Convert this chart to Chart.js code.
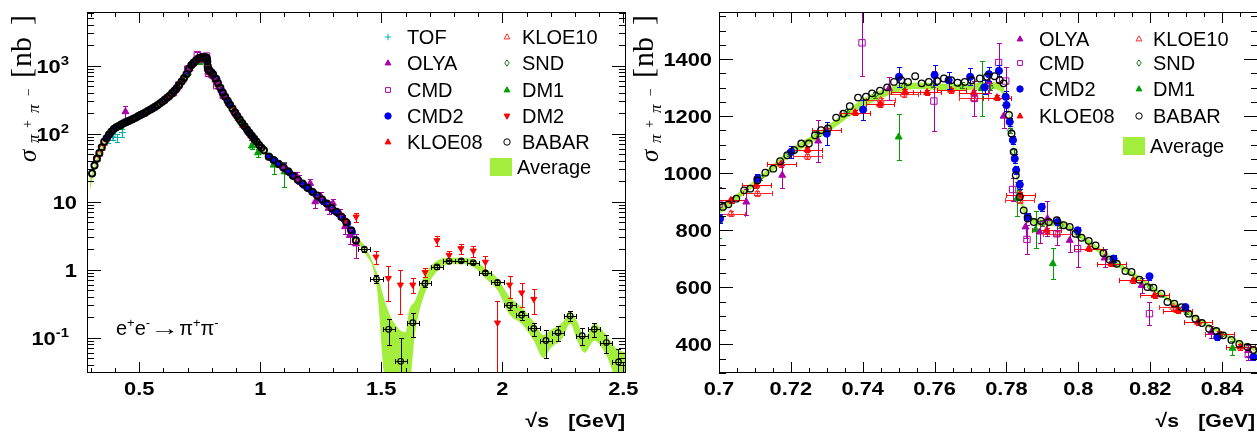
<!DOCTYPE html>
<html>
<head>
<meta charset="utf-8">
<script src="https://cdn.jsdelivr.net/npm/chart.js@4.4.1/dist/chart.umd.min.js"></script>
<style>
  html, body { margin: 0; padding: 0; background: #fff; overflow: hidden; width: 1257px; height: 433px; }
  canvas { position: absolute; top: 0; }
  #full { left: 0; }
  #rho { left: 630px; }
</style>
</head>
<body>
<canvas id="full" width="645" height="433"></canvas>
<canvas id="rho" width="640" height="433"></canvas>
<script>
// ---- left panel: full energy range (log scale) ----
const L_BABAR_X = [0.305,0.315,0.325,0.335,0.345,0.355,0.365,0.375,0.385,0.395,0.405,0.415,0.425,0.435,0.445,0.455,0.465,0.475,0.485,0.495,0.505,0.515,0.525,0.535,0.545,0.555,0.565,0.575,0.585,0.595,0.605,0.615,0.625,0.635,0.645,0.655,0.665,0.675,0.685,0.695,0.705,0.715,0.725,0.735,0.745,0.755,0.765,0.775,0.779,0.781,0.783,0.785,0.795,0.805,0.815,0.825,0.835,0.845,0.855,0.865,0.875,0.885,0.895,0.905,0.915,0.925,0.935,0.945,0.955,0.965,0.975,0.985,0.995,1.005,1.015,1.035,1.055,1.075,1.095,1.115,1.135,1.155,1.175,1.195,1.215,1.235,1.255,1.275,1.295,1.315,1.335,1.355,1.375,1.395]
const L_BABAR_Y = [26,34,43,52,63,76,86,97,108,117,124,130,136,142,148,153,159,166,172,180,188,196,205,215,225,236,248,262,278,296,316,338,362,392,428,468,520,585,660,750,900,1015,1110,1200,1290,1325,1325,1335,1290,1150,980,870,815,745,650,555,475,402,350,305,266,234,206,182,162,144,129,115,103,93,84,76,68,62,57,46,41,36,32,28,24,21,18.5,16,14,12.3,10.8,9.4,8.1,7.1,6.0,5.0,3.8,2.7]
const L_BABAR_HI_X = [1.43,1.48,1.53,1.58,1.63,1.68,1.73,1.78,1.83,1.88,1.93,1.98,2.03,2.08,2.13,2.18,2.23,2.28,2.33,2.38,2.43,2.48]
const L_BABAR_HI_Y = [2.0,0.73,0.133,0.045,0.166,0.63,1.1,1.33,1.35,1.27,0.9,0.65,0.30,0.216,0.137,0.091,0.119,0.21,0.107,0.133,0.085,0.044]
const L_BABAR_HI_ERR = [0.15,0.1,0.055,0.055,0.065,0.08,0.08,0.08,0.07,0.07,0.07,0.06,0.04,0.035,0.03,0.04,0.03,0.035,0.03,0.03,0.025,0.025]
const L_BABAR_HI_BIN = 0.025

const L_DM2_X = [1.35,1.396,1.478,1.529,1.579,1.63,1.681,1.73,1.78,1.829,1.88,1.93,1.98,2.03,2.08,2.13]
const L_DM2_Y = [5.2,6.0,1.55,0.75,0.6,0.6,0.92,2.7,1.64,2.06,1.9,1.3,0.166,0.6,0.46,0.37]
const L_DM2_ERR = [0.6,0.9,0.35,0.4,0.38,0.15,0.15,0.45,0.25,0.35,0.35,0.3,0.18,0.22,0.18,0.15]

const L_DM1_X = [0.42,0.5,0.6,0.7,0.75,0.78,0.795,0.85,0.92,0.965,0.99,1.055,1.1]
const L_DM1_Y = [128,185,300,780,1127,1300,820,360,150,66,52.5,34.6,27.5]
const L_DM1_ERR = [10,10,20,50,80,90,50,30,12,6,7,9,11]

const L_OLYA_X = [0.443,0.52,0.6,0.65,0.708,0.728,0.747,0.775,0.786,0.798,0.818,0.85,0.9,1.1,1.15,1.158,1.206,1.227,1.25,1.282,1.3,1.33,1.35,1.37,1.396]
const L_OLYA_Y = [211,195,305,440,899,1113,1297,1320,812,765,607,370,205,33,24,21.4,18.6,10,12,8.0,9.5,6.7,4.3,3.2,2.4]
const L_OLYA_ERR = [45,15,20,30,45,75,40,40,40,40,25,25,15,4,3,3,3,2,2,1.5,1.5,1.2,1.0,0.8,0.9]

const L_CMD2_X = [0.37,0.4,0.45,0.5,0.55,0.6,0.65,0.7,0.72,0.74,0.76,0.78,0.79,0.8,0.82,0.84,0.87,0.9,0.95,0.97,1.04,1.06,1.08,1.1,1.12,1.14,1.16,1.18,1.2,1.22,1.24,1.26,1.28,1.3,1.32,1.34,1.36,1.38]
const L_CMD2_Y = [90,122,152,186,230,305,450,841,1075,1223,1344,1239,882,800,639,426,285,195,108,88,45,40,35,31,27,24,20,17.5,15.5,13.5,11.5,10.2,9.0,7.6,6.8,5.8,4.8,3.6]
const L_CMD2_ERR = [5,5,6,6,8,10,15,15,20,35,35,20,15,12,12,10,8,6,4,4,2,2,2,1.8,1.6,1.4,1.3,1.2,1.1,1,0.9,0.8,0.8,0.7,0.6,0.6,0.5,0.5]

const L_KLOE10_X = [0.325,0.335,0.345,0.355,0.365,0.375,0.385,0.4,0.42,0.45,0.5,0.55,0.6,0.65,0.7,0.72,0.745,0.77,0.784,0.794,0.81,0.826,0.85,0.87,0.9,0.93,0.96,0.98]
const L_KLOE10_Y = [42,50,61,72,84,95,106,119,133,149,184,228,303,445,790,1060,1256,1262,905,788,680,531,370,282,190,132,95,77]

const L_KLOE08_X = [0.6,0.62,0.64,0.66,0.68,0.7,0.717,0.738,0.752,0.765,0.777,0.784,0.791,0.803,0.815,0.828,0.839,0.85,0.87,0.89,0.91,0.93,0.95,0.97]
const L_KLOE08_Y = [300,345,405,490,615,830,1032,1212,1285,1291,1265,925,800,736,625,519,437,365,280,215,168,133,106,85]

const L_SND_X = [0.39,0.41,0.43,0.45,0.48,0.52,0.56,0.6,0.64,0.68,0.72,0.76,0.79,0.83,0.87,0.91,0.95]
const L_SND_Y = [112,124,136,146,164,196,244,308,400,620,1070,1312,830,510,283,166,106]

const L_TOF_X = [0.37,0.39,0.41,0.43]
const L_TOF_Y = [80,92,88,104]
const L_TOF_ERR = [8,10,12,14]

const L_CMD_X = [0.64,0.663,0.7,0.74,0.76,0.778,0.782,0.786,0.8,0.82,0.847]
const L_CMD_Y = [400,520,891,1457,1253,1388,943,768,736,508,365]
const L_CMD_ERR = [30,30,60,115,105,70,40,50,65,40,20]

const L_BAND_X = [0.295,0.31,0.33,0.35,0.38,0.42,0.5,0.6,0.65,0.7,0.73,0.75,0.77,0.778,0.782,0.786,0.8,0.85,0.9,0.95,1.0,1.05,1.1,1.2,1.3,1.35,1.38,1.43,1.48,1.52,1.55,1.6,1.615,1.64,1.68,1.73,1.78,1.83,1.88,1.93,1.98,2.03,2.08,2.13,2.17,2.2,2.25,2.28,2.31,2.34,2.38,2.43,2.47,2.51]
const L_BAND_LO = [14,24,42,60,92,125,178,290,410,760,1130,1270,1295,1280,1000,830,740,355,190,108,58,40,26,14,7,5.0,3.0,1.8,0.6,0.02,0.02,0.02,0.02,0.12,0.45,0.95,1.2,1.2,1.1,0.75,0.5,0.22,0.16,0.09,0.05,0.07,0.1,0.16,0.09,0.06,0.09,0.055,0.025,0.02]
const L_BAND_HI = [20,30,50,70,108,140,195,315,460,830,1200,1330,1345,1340,1150,890,790,390,210,120,65,45,30,15.5,7.8,5.8,3.6,2.3,0.95,0.3,0.17,0.12,0.25,0.35,0.85,1.35,1.5,1.5,1.4,1.05,0.75,0.4,0.28,0.17,0.11,0.13,0.17,0.25,0.17,0.1,0.16,0.11,0.07,0.06]

const L_XTICKS = [0.5, 1, 1.5, 2, 2.5]
const L_XTICK_TEXT = ['0.5', '1', '1.5', '2', '2.5']
const L_YTICKS = [0.1, 1, 10, 100, 1000]
const L_YTICK_BASE = ['10', '1', '10', '10', '10']
const L_YTICK_EXP = ['-1', '', '', '2', '3']

// ---- right panel: rho-omega region (linear scale) ----
const R_BABAR_X = [0.7011,0.7026,0.7048,0.707,0.7087,0.7107,0.7129,0.7151,0.717,0.719,0.7209,0.7229,0.725,0.7267,0.7284,0.7303,0.7326,0.7346,0.7364,0.7387,0.7409,0.7426,0.7448,0.7468,0.7487,0.7507,0.7526,0.7546,0.7564,0.7584,0.7607,0.7626,0.7646,0.7664,0.7684,0.7703,0.7726,0.7746,0.7767,0.7781,0.7792,0.7807,0.7814,0.782,0.7826,0.7837,0.7848,0.7859,0.7876,0.7896,0.7918,0.794,0.7959,0.7976,0.7992,0.8009,0.8029,0.8048,0.807,0.8087,0.8107,0.8131,0.8148,0.817,0.8192,0.8209,0.8231,0.8248,0.8267,0.8287,0.8307,0.8326,0.8344,0.8364,0.8384,0.8403,0.8426,0.8448,0.8471,0.8487]
const R_BABAR_Y = [882,891,911,940,946,975,1002,1016,1042,1063,1081,1104,1104,1133,1151,1157,1195,1209,1235,1265,1268,1280,1289,1301,1320,1326,1320,1340,1315,1320,1323,1332,1326,1317,1320,1326,1332,1338,1340,1326,1315,1204,1139,1075,993,917,870,841,829,833,829,835,818,812,788,774,763,747,720,697,683,657,654,627,601,599,578,549,543,531,508,490,475,455,447,432,416,402,391,381]

const R_CMD2_X = [0.7003,0.7107,0.7201,0.73,0.7401,0.7501,0.76,0.7639,0.7699,0.7739,0.7751,0.7779,0.7798,0.78,0.7809,0.7818,0.7823,0.7827,0.7837,0.7859,0.7898,0.7942,0.7998,0.8098,0.8198,0.8298,0.8387,0.8487]
const R_CMD2_Y = [841,981,1075,1139,1223,1338,1344,1326,1338,1301,1347,1359,1268,1239,1180,1116,1051,1011,960,847,882,829,800,701,639,531,426,356]
const R_CMD2_ERR = [15,15,20,40,35,35,35,30,30,25,25,20,20,20,15,15,15,15,15,15,15,12,12,12,12,10,10,10]

const R_KLOE08_X = [0.7033,0.7104,0.7173,0.7246,0.73,0.7379,0.7448,0.7518,0.7579,0.7646,0.7709,0.7774,0.7839,0.7912,0.8029,0.8092,0.8153,0.8212,0.8276,0.8333,0.8392,0.8451]
const R_KLOE08_Y = [905,958,1032,1083,1151,1212,1242,1285,1283,1291,1282,1265,925,800,736,683,625,572,519,478,437,391]
const R_KLOE08_ERR = 9
const R_KLOE08_BIN = 0.004

const R_KLOE10_X = [0.7033,0.7107,0.7246,0.745,0.7514,0.7709,0.7837,0.7942,0.8264]
const R_KLOE10_Y = [858,929,1060,1256,1277,1262,905,788,531]
const R_KLOE10_ERR = 9
const R_KLOE10_BIN = 0.004

const R_OLYA_X = [0.7076,0.7176,0.7276,0.7473,0.7751,0.7792,0.7853,0.7892,0.7914,0.7976,0.8073,0.8176,0.837,0.8473]
const R_OLYA_Y = [899,993,1113,1297,1320,1200,812,794,841,765,703,607,443,379]
const R_OLYA_ERR = [45,45,75,40,40,40,40,40,60,40,30,25,20,20]

const R_CMD_X = [0.7,0.7398,0.7598,0.7711,0.7778,0.7798,0.7817,0.7857,0.794,0.7998,0.8198,0.8473]
const R_CMD_Y = [891,1457,1253,1262,1388,1323,943,768,788,736,508,365]
const R_CMD_ERR = [60,115,105,60,70,50,40,50,40,65,40,20]

const R_DM1_X = [0.7,0.75,0.7731,0.7829,0.7881,0.7929,0.8429]
const R_DM1_Y = [833,1127,1297,911,802,683,387]
const R_DM1_ERR = [60,80,95,60,65,55,25]

const R_SND_X = [0.7035,0.7115,0.7195,0.7275,0.7355,0.7435,0.7515,0.7595,0.7675,0.7755,0.7795,0.781,0.782,0.7835,0.786,0.79,0.795,0.8,0.81,0.82,0.83,0.84,0.85]
const R_SND_Y = [905,985,1070,1140,1215,1275,1305,1312,1308,1300,1270,1150,1075,930,850,825,818,785,690,600,515,433,372]
const R_SND_ERR = 10

const R_BAND_X = [0.7,0.71,0.72,0.73,0.74,0.745,0.75,0.755,0.76,0.765,0.77,0.775,0.778,0.78,0.781,0.782,0.783,0.784,0.786,0.79,0.795,0.8,0.81,0.82,0.83,0.84,0.85]
const R_BAND_LO = [855,955,1060,1140,1230,1262,1285,1295,1292,1290,1292,1295,1290,1240,1180,1070,960,890,840,815,812,775,680,595,508,432,370]
const R_BAND_HI = [880,975,1085,1165,1260,1290,1310,1318,1315,1312,1315,1320,1318,1270,1200,1100,990,920,860,838,835,795,700,612,522,445,382]

const R_XTICKS = [0.7, 0.72, 0.74, 0.76, 0.78, 0.8, 0.82, 0.84]
const R_XTICK_TEXT = ['0.7', '0.72', '0.74', '0.76', '0.78', '0.8', '0.82', '0.84']
const R_YTICKS = [400, 600, 800, 1000, 1200, 1400]
const R_YTICK_TEXT = ['400', '600', '800', '1000', '1200', '1400']

const LEGEND_L = [['TOF', 'KLOE10'], ['OLYA', 'SND'], ['CMD', 'DM1'], ['CMD2', 'DM2'], ['KLOE08', 'BABAR']]
const LEGEND_R = [['OLYA', 'KLOE10'], ['CMD', 'SND'], ['CMD2', 'DM1'], ['KLOE08', 'BABAR']]

const AVG = '#a3ee3c'
const STYLE = {
  TOF:    { color: '#00b0b0', shape: 'cross',    fill: false, r: 3.5 },
  OLYA:   { color: '#aa00aa', shape: 'triangle', fill: true,  r: 4 },
  CMD:    { color: '#aa00aa', shape: 'rect',     fill: false, r: 4.5 },
  CMD2:   { color: '#0000ee', shape: 'circle',   fill: true,  r: 3.3 },
  KLOE08: { color: '#ff0000', shape: 'triangle', fill: true,  r: 4 },
  KLOE10: { color: '#ff2a2a', shape: 'triangle', fill: false, r: 4 },
  SND:    { color: '#227722', shape: 'rectRot',  fill: false, r: 3.5 },
  DM1:    { color: '#00a000', shape: 'triangle', fill: true,  r: 4 },
  DM2:    { color: '#ff0000', shape: 'tridown',  fill: true,  r: 3.5 },
  BABAR:  { color: '#000000', shape: 'circle',   fill: false, r: 3 }
}

const pts = (xs, ys) => xs.map((x, i) => ({ x: x, y: ys[i] }))

function pointSet(name, xs, ys, opt) {
  const st = STYLE[name]
  opt = opt || {}
  return {
    label: name,
    data: pts(xs, ys),
    showLine: false,
    pointStyle: st.shape === 'tridown' ? 'triangle' : st.shape,
    pointRotation: st.shape === 'tridown' ? 180 : 0,
    pointRadius: opt.r || st.r,
    pointBorderWidth: opt.bw || 1,
    pointBorderColor: st.color,
    pointBackgroundColor: st.fill ? st.color : 'rgba(0,0,0,0)',
    borderColor: st.color,
    errY: opt.errY,
    errX: opt.errX,
    order: opt.order || 10,
    clip: 0
  }
}

function bandSets(xs, lo, hi) {
  const common = { type: 'line', borderWidth: 0, pointRadius: 0, cubicInterpolationMode: 'monotone', order: 100, clip: 0 }
  return [
    Object.assign({ label: 'avgHi', data: pts(xs, hi), fill: false }, common),
    Object.assign({ label: 'Average', data: pts(xs, lo), fill: '-1', backgroundColor: AVG }, common)
  ]
}

// error bars drawn just before each dataset's markers
const errorBars = {
  id: 'errorBars',
  beforeDatasetDraw(chart, args) {
    const ds = chart.data.datasets[args.index]
    if (!ds.errY && !ds.errX) return
    const ctx = chart.ctx, a = chart.chartArea, sx = chart.scales.x, sy = chart.scales.y
    ctx.save()
    ctx.beginPath()
    ctx.rect(a.left, a.top, a.right - a.left, a.bottom - a.top)
    ctx.clip()
    ctx.strokeStyle = ds.borderColor
    ctx.lineWidth = 1
    ctx.beginPath()
    ds.data.forEach((p, i) => {
      const px = Math.round(sx.getPixelForValue(p.x)) + 0.5
      const py = Math.round(sy.getPixelForValue(p.y)) + 0.5
      const ey = Array.isArray(ds.errY) ? ds.errY[i] : ds.errY
      const ex = Array.isArray(ds.errX) ? ds.errX[i] : ds.errX
      if (ey) {
        const low = p.y - ey > 0 ? p.y - ey : sy.min * 0.01
        const y1 = Math.round(sy.getPixelForValue(p.y + ey)) + 0.5
        const y2 = Math.round(sy.getPixelForValue(low)) + 0.5
        ctx.moveTo(px, y1); ctx.lineTo(px, y2)
        ctx.moveTo(px - 2.5, y1); ctx.lineTo(px + 2.5, y1)
        ctx.moveTo(px - 2.5, y2); ctx.lineTo(px + 2.5, y2)
      }
      if (ex) {
        const x1 = Math.round(sx.getPixelForValue(p.x - ex)) + 0.5
        const x2 = Math.round(sx.getPixelForValue(p.x + ex)) + 0.5
        ctx.moveTo(x1, py); ctx.lineTo(x2, py)
        ctx.moveTo(x1, py - 2.5); ctx.lineTo(x1, py + 2.5)
        ctx.moveTo(x2, py - 2.5); ctx.lineTo(x2, py + 2.5)
      }
    })
    ctx.stroke()
    ctx.restore()
  }
}

function drawMarker(ctx, st, x, y, r) {
  ctx.save()
  ctx.lineWidth = 1
  ctx.strokeStyle = st.color
  ctx.fillStyle = st.fill ? st.color : 'rgba(0,0,0,0)'
  ctx.beginPath()
  if (st.shape === 'circle') {
    ctx.arc(x, y, r, 0, Math.PI * 2)
  } else if (st.shape === 'triangle') {
    ctx.moveTo(x, y - r); ctx.lineTo(x + r * 0.9, y + r * 0.6); ctx.lineTo(x - r * 0.9, y + r * 0.6); ctx.closePath()
  } else if (st.shape === 'tridown') {
    ctx.moveTo(x, y + r); ctx.lineTo(x + r * 0.9, y - r * 0.6); ctx.lineTo(x - r * 0.9, y - r * 0.6); ctx.closePath()
  } else if (st.shape === 'rect') {
    ctx.rect(x - r * 0.75, y - r * 0.75, r * 1.5, r * 1.5)
  } else if (st.shape === 'rectRot') {
    ctx.moveTo(x, y - r); ctx.lineTo(x + r * 0.7, y); ctx.lineTo(x, y + r); ctx.lineTo(x - r * 0.7, y); ctx.closePath()
  } else {
    ctx.moveTo(x - r, y); ctx.lineTo(x + r, y); ctx.moveTo(x, y - r); ctx.lineTo(x, y + r)
  }
  ctx.fill()
  ctx.stroke()
  ctx.restore()
}

function wideText(ctx, txt, x, y, align, sx) {
  ctx.save()
  ctx.translate(x, y)
  ctx.scale(sx, 1)
  ctx.textAlign = align
  ctx.fillText(txt, 0, 0)
  ctx.restore()
}

const TICK_FONT = 'bold 19px "Liberation Sans", Arial, sans-serif'
const EXP_FONT = 'bold 13px "Liberation Sans", Arial, sans-serif'
const SERIF = '"Liberation Serif", "DejaVu Serif", serif'

function overlay(cfg) {
  return {
    id: 'overlay',
    afterDraw(chart) {
      const ctx = chart.ctx, a = chart.chartArea, sx = chart.scales.x, sy = chart.scales.y
      ctx.save()
      ctx.strokeStyle = '#000'
      ctx.fillStyle = '#000'
      ctx.lineWidth = 1
      // frame
      ctx.strokeRect(a.left + 0.5, a.top + 0.5, a.right - a.left - 1, a.bottom - a.top - 1)
      ctx.beginPath()
      // x ticks, pointing inwards, bottom and top
      const n0 = Math.ceil(cfg.xMin / cfg.xMinor - 1e-6), n1 = Math.floor(cfg.xMax / cfg.xMinor + 1e-6)
      for (let n = n0; n <= n1; n++) {
        const v = n * cfg.xMinor
        const major = Math.abs(v / cfg.xMajor - Math.round(v / cfg.xMajor)) < 1e-6
        const len = major ? 11 : 5
        const p = Math.round(sx.getPixelForValue(v)) + 0.5
        ctx.moveTo(p, a.bottom); ctx.lineTo(p, a.bottom - len)
        ctx.moveTo(p, a.top); ctx.lineTo(p, a.top + len)
      }
      // y ticks, left and right
      const yt = []
      if (cfg.yLog) {
        for (let d = -3; d <= 4; d++) {
          for (let k = 1; k <= 9; k++) {
            const v = k * Math.pow(10, d)
            if (v >= cfg.yMin && v <= cfg.yMax) yt.push([v, k === 1 ? 14 : 7])
          }
        }
      } else {
        const m0 = Math.ceil(cfg.yMin / cfg.yMinor), m1 = Math.floor(cfg.yMax / cfg.yMinor)
        for (let n = m0; n <= m1; n++) {
          const v = n * cfg.yMinor
          yt.push([v, v % cfg.yMajor === 0 ? 14 : 7])
        }
      }
      yt.forEach(([v, len]) => {
        const p = Math.round(sy.getPixelForValue(v)) + 0.5
        ctx.moveTo(a.left, p); ctx.lineTo(a.left + len, p)
        ctx.moveTo(a.right, p); ctx.lineTo(a.right - len, p)
      })
      ctx.stroke()

      // tick labels
      ctx.textBaseline = 'alphabetic'
      ctx.font = TICK_FONT
      cfg.xTicks.forEach((v, i) => {
        wideText(ctx, cfg.xText[i], sx.getPixelForValue(v), cfg.xLabelY, 'center', 1.15)
      })
      cfg.yTicks.forEach((v, i) => {
        const p = sy.getPixelForValue(v)
        const exp = cfg.yExp ? cfg.yExp[i] : ''
        if (exp) {
          ctx.font = EXP_FONT
          const we = ctx.measureText(exp).width * 1.15
          wideText(ctx, exp, cfg.yExpRight, p - 1, 'right', 1.15)
          ctx.font = TICK_FONT
          wideText(ctx, cfg.yText[i], cfg.yExpRight - we, p + 7, 'right', 1.15)
        } else {
          ctx.font = TICK_FONT
          wideText(ctx, cfg.yText[i], cfg.yLabelRight, p + 7, 'right', 1.15)
        }
      })

      // x title
      ctx.font = 'bold 19px "Liberation Sans", Arial, sans-serif'
      wideText(ctx, '[GeV]', cfg.xTitleRight, 427, 'right', 1.12)
      wideText(ctx, '\u221As', cfg.xTitleRight - 76, 427, 'right', 1.12)

      // y title, rotated
      const tx = cfg.yTitleX
      const pieces = [
        ['\u03C3', 'italic 25px ' + SERIF, 162, tx + 1],
        ['\u03C0', 'italic 17px ' + SERIF, 143, tx + 4],
        ['+', '14px ' + SERIF, 128, tx - 3],
        ['\u03C0', 'italic 17px ' + SERIF, 113, tx + 4],
        ['\u2212', '14px ' + SERIF, 96, tx - 2],
        ['[', '30px ' + SERIF, 78, tx - 4],
        ['nb', '30px ' + SERIF, 67, tx - 4],
        [']', '30px ' + SERIF, 25, tx - 4]
      ]
      pieces.forEach(([t, f, y, x]) => {
        ctx.save()
        ctx.translate(x, y)
        ctx.rotate(-Math.PI / 2)
        ctx.font = f
        ctx.textAlign = 'left'
        ctx.fillText(t, 0, 0)
        ctx.restore()
      })

      // legend
      ctx.font = '20px "Liberation Sans", Arial, sans-serif'
      ctx.textAlign = 'left'
      cfg.legend.forEach((row, r) => {
        row.forEach((name, c) => {
          const y = cfg.legRows[r]
          drawMarker(ctx, STYLE[name], cfg.legMarkX[c], y, 3.2)
          ctx.fillStyle = '#000'
          ctx.fillText(name, cfg.legTextX[c], y + 7)
        })
      })
      const b = cfg.avgBox
      ctx.fillStyle = AVG
      ctx.fillRect(b[0], b[1], b[2], b[3])
      ctx.fillStyle = '#000'
      ctx.fillText('Average', b[0] + b[2] + 5, b[1] + b[3] / 2 + 7)

      // reaction label
      if (cfg.note) {
        const big = '20px "Liberation Sans", Arial, sans-serif', small = '13px "Liberation Sans", Arial, sans-serif'
        const parts = [['e', big, 0, 1], ['+', small, -8, 1], ['e', big, 0, 1], ['-', small, -8, 1], ['\u2192', big, 0, 1.45],
          ['\u03C0', big, 0, 1], ['+', small, -8, 1], ['\u03C0', big, 0, 1], ['-', small, -8, 1]]
        let cx = cfg.note[0]
        parts.forEach(([t, f, dy, s]) => {
          ctx.font = f
          wideText(ctx, t, cx, cfg.note[1] + dy, 'left', s)
          cx += ctx.measureText(t).width * s
        })
      }
      ctx.restore()
    }
  }
}

function makeChart(id, cfg, datasets) {
  return new Chart(document.getElementById(id), {
    type: 'scatter',
    data: { datasets: datasets },
    options: {
      responsive: false,
      animation: false,
      events: [],
      layout: { padding: cfg.pad },
      scales: {
        x: { type: 'linear', min: cfg.xMin, max: cfg.xMax, display: false },
        y: { type: cfg.yLog ? 'logarithmic' : 'linear', min: cfg.yMin, max: cfg.yMax, display: false }
      },
      plugins: { legend: { display: false }, tooltip: { enabled: false } }
    },
    plugins: [errorBars, overlay(cfg)]
  })
}

makeChart('full', {
  pad: { left: 87, right: 19, top: 12, bottom: 60 },
  xMin: 0.284, xMax: 2.511, xMajor: 0.5, xMinor: 0.1,
  yLog: true, yMin: 0.0303, yMax: 6166,
  xTicks: L_XTICKS, xText: L_XTICK_TEXT, xLabelY: 395,
  yTicks: L_YTICKS, yText: L_YTICK_BASE, yExp: L_YTICK_EXP, yLabelRight: 77, yExpRight: 69,
  xTitleRight: 625, yTitleX: 35,
  legend: LEGEND_L, legRows: [37, 63, 90, 116, 142], legMarkX: [388, 507], legTextX: [407, 522],
  avgBox: [490, 158, 22, 18],
  note: [116, 335]
}, [
  pointSet('BABAR', L_BABAR_X, L_BABAR_Y, { r: 3.1, bw: 1.9, order: 1 }),
  pointSet('BABAR', L_BABAR_HI_X, L_BABAR_HI_Y, { r: 2.8, bw: 1.2, order: 1, errY: L_BABAR_HI_ERR, errX: L_BABAR_HI_BIN }),
  pointSet('DM2', L_DM2_X, L_DM2_Y, { errY: L_DM2_ERR, order: 2 }),
  pointSet('OLYA', L_OLYA_X, L_OLYA_Y, { errY: L_OLYA_ERR, order: 4 }),
  pointSet('CMD', L_CMD_X, L_CMD_Y, { errY: L_CMD_ERR, order: 5 }),
  pointSet('CMD2', L_CMD2_X, L_CMD2_Y, { errY: L_CMD2_ERR, order: 6 }),
  pointSet('DM1', L_DM1_X, L_DM1_Y, { errY: L_DM1_ERR, order: 7 }),
  pointSet('SND', L_SND_X, L_SND_Y, { order: 8 }),
  pointSet('TOF', L_TOF_X, L_TOF_Y, { errY: L_TOF_ERR, order: 9 }),
  pointSet('KLOE08', L_KLOE08_X, L_KLOE08_Y, { order: 10 }),
  pointSet('KLOE10', L_KLOE10_X, L_KLOE10_Y, { order: 11 }),
  ...bandSets(L_BAND_X, L_BAND_LO, L_BAND_HI)
])

makeChart('rho', {
  pad: { left: 89, right: 12, top: 12, bottom: 60 },
  xMin: 0.7, xMax: 0.85, xMajor: 0.02, xMinor: 0.005,
  yLog: false, yMin: 300, yMax: 1565, yMajor: 200, yMinor: 50,
  xTicks: R_XTICKS, xText: R_XTICK_TEXT, xLabelY: 395,
  yTicks: R_YTICKS, yText: R_YTICK_TEXT, yLabelRight: 82,
  xTitleRight: 625, yTitleX: 27,
  legend: LEGEND_R, legRows: [39, 63, 89, 116], legMarkX: [390, 509], legTextX: [409, 523],
  avgBox: [493, 137, 22, 18]
}, [
  pointSet('BABAR', R_BABAR_X, R_BABAR_Y, { r: 3.3, bw: 1.3, order: 1 }),
  pointSet('CMD2', R_CMD2_X, R_CMD2_Y, { r: 3.6, errY: R_CMD2_ERR, order: 3 }),
  pointSet('OLYA', R_OLYA_X, R_OLYA_Y, { errY: R_OLYA_ERR, order: 4 }),
  pointSet('CMD', R_CMD_X, R_CMD_Y, { errY: R_CMD_ERR, order: 5 }),
  pointSet('DM1', R_DM1_X, R_DM1_Y, { errY: R_DM1_ERR, order: 6 }),
  pointSet('KLOE08', R_KLOE08_X, R_KLOE08_Y, { errY: R_KLOE08_ERR, errX: R_KLOE08_BIN, order: 7 }),
  pointSet('KLOE10', R_KLOE10_X, R_KLOE10_Y, { errY: R_KLOE10_ERR, errX: R_KLOE10_BIN, order: 8 }),
  pointSet('SND', R_SND_X, R_SND_Y, { r: 3, errY: R_SND_ERR, order: 9 }),
  ...bandSets(R_BAND_X, R_BAND_LO, R_BAND_HI)
])
</script>
</body>
</html>
